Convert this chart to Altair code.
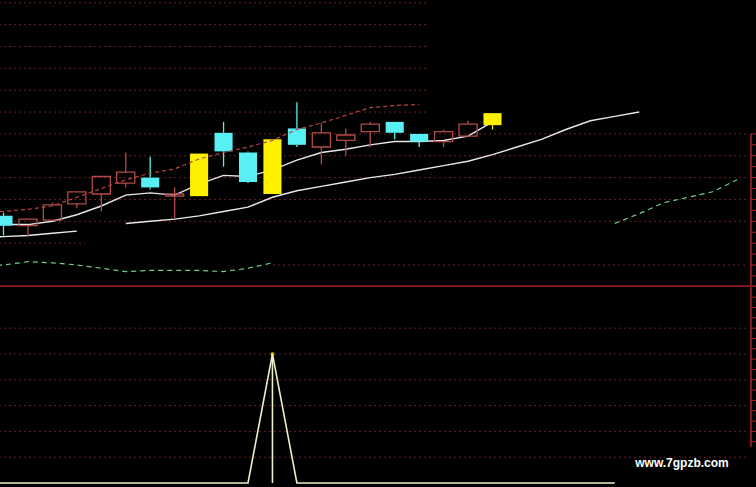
import altair as alt
import pandas as pd

# ---- daily candles (index = trading day) ----
day = list(range(21))
open_ = [8.45, 8.36, 8.41, 8.56, 8.65, 8.75, 8.80, 8.63, 8.63, 9.21, 9.03,
         8.65, 9.25, 9.08, 9.14, 9.22, 9.31, 9.20, 9.13, 9.18, 9.28]
high = [8.48, 8.42, 8.57, 8.67, 8.81, 9.03, 8.99, 8.71, 9.02, 9.31, 9.04,
        9.15, 9.49, 9.30, 9.25, 9.31, 9.31, 9.20, 9.24, 9.32, 9.39]
low = [8.27, 8.26, 8.41, 8.52, 8.49, 8.71, 8.69, 8.43, 8.63, 8.90, 8.75,
       8.65, 9.08, 8.92, 9.00, 9.08, 9.15, 9.08, 9.08, 9.18, 9.24]
close = [8.36, 8.42, 8.55, 8.67, 8.81, 8.85, 8.71, 8.65, 9.02, 9.04, 8.76,
         9.15, 9.10, 9.21, 9.19, 9.29, 9.21, 9.13, 9.22, 9.29, 9.39]
signal = [0, 0, 0, 0, 0, 0, 0, 0, 1, 0, 0, 1, 0, 0, 0, 0, 0, 0, 0, 0, 1]

# ---- overlay lines ----
ma_fast_day = list(range(-1, 21))
ma_fast = [8.37, 8.37, 8.37, 8.40, 8.46, 8.54, 8.64, 8.66, 8.64, 8.74, 8.82,
           8.81, 8.87, 8.96, 9.03, 9.06, 9.10, 9.13, 9.13, 9.14, 9.18, 9.31]

ma_slow_a_day = list(range(-1, 4))
ma_slow_a = [8.25, 8.26, 8.27, 8.29, 8.31]
ma_slow_b_day = list(range(5, 27))
ma_slow_b = [8.38, 8.40, 8.42, 8.45, 8.49, 8.53, 8.62, 8.68, 8.72, 8.76, 8.80,
             8.83, 8.87, 8.91, 8.95, 9.01, 9.08, 9.15, 9.24, 9.32, 9.36, 9.40]

upper_day = list(range(-1, 18))
upper = [8.48, 8.49, 8.51, 8.54, 8.62, 8.70, 8.78, 8.84, 8.88, 8.97, 9.03,
         9.08, 9.14, 9.24, 9.30, 9.37, 9.44, 9.46, 9.47]

lower_a_day = list(range(-1, 12))
lower_a = [7.99, 8.00, 8.03, 8.02, 8.00, 7.97, 7.94, 7.95, 7.95, 7.95, 7.94,
           7.97, 8.02]
lower_b_day = list(range(25, 31))
lower_b = [8.38, 8.47, 8.57, 8.62, 8.67, 8.78]

# ---- signal indicator (sub panel) ----
ind_day = list(range(-1, 26))
ind = [0] * len(ind_day)
ind[ind_day.index(11)] = 100

# ---- grid levels ----
price_grid = [10.4, 10.2, 10.0, 9.8, 9.6, 9.4, 9.2, 9.0, 8.8, 8.6, 8.4, 8.2, 8.0]
price_grid_end = [17.36] * 6 + [30.45] * 5 + [3.33, 30.45]
price_grid_start = [-1.0] * 12 + [11.02]
sub_grid = [120, 100, 80, 60, 40, 20]
axis_day = 30.57
price_ticks = [round(7.8 + 0.1 * k, 2) for k in range(15)]
sub_ticks = list(range(32, 152, 8))

BG = "#000000"
GRID = "#6a2222"
RED = "#b34a4a"
CYAN = "#58f0f4"
YELLOW = "#fff000"

x_scale = alt.Scale(domain=[-0.1431, 30.777], nice=False, zero=False)
top_scale = alt.Scale(domain=[7.7986, 10.4256], nice=False, zero=False)
sub_scale = alt.Scale(domain=[-3.1, 151.9], nice=False, zero=False)
kind_scale = alt.Scale(domain=["up", "down", "signal"], range=[RED, CYAN, YELLOW])

kind = ["signal" if s else ("up" if c >= o else "down")
        for o, c, s in zip(open_, close, signal)]
candles = pd.DataFrame({"day": day, "open": open_, "high": high, "low": low,
                        "close": close, "kind": kind})
candles["top"] = candles[["open", "close"]].max(axis=1)
candles["bot"] = candles[["open", "close"]].min(axis=1)
candles["x0"] = candles["day"] - 0.37
candles["x1"] = candles["day"] + 0.37


def series(pairs):
    rows = []
    for seg, (d, v) in enumerate(pairs):
        rows += [{"day": a, "v": b, "seg": seg} for a, b in zip(d, v)]
    return pd.DataFrame(rows)


def xq(field="day"):
    return alt.X(f"{field}:Q", scale=x_scale, axis=None)


def yt(field):
    return alt.Y(f"{field}:Q", scale=top_scale, axis=None)


def ys(field):
    return alt.Y(f"{field}:Q", scale=sub_scale, axis=None)


# ---------- price panel ----------
grid_top_df = pd.DataFrame({"level": price_grid, "x0": price_grid_start,
                            "x1": price_grid_end})
grid_top = alt.Chart(grid_top_df).mark_rule(
    color=GRID, strokeDash=[2, 3], strokeWidth=1, clip=True
).encode(x=xq("x0"), x2="x1", y=yt("level"))

ma_fast_line = alt.Chart(series([(ma_fast_day, ma_fast)])).mark_line(
    color="#e8e8e8", strokeWidth=1.4, clip=True
).encode(x=xq(), y=yt("v"), detail="seg:N")

ma_slow_line = alt.Chart(series([(ma_slow_a_day, ma_slow_a),
                                 (ma_slow_b_day, ma_slow_b)])).mark_line(
    color="#e8e8e8", strokeWidth=1.4, clip=True
).encode(x=xq(), y=yt("v"), detail="seg:N")

lower_line = alt.Chart(series([(lower_a_day, lower_a),
                               (lower_b_day, lower_b)])).mark_line(
    color="#6fcf8c", strokeWidth=1.2, strokeDash=[5, 4], clip=True
).encode(x=xq(), y=yt("v"), detail="seg:N")

wick_hi = alt.Chart(candles).mark_rule(strokeWidth=1.3, clip=True).encode(
    x=xq(), y=yt("high"), y2="top",
    color=alt.Color("kind:N", scale=kind_scale, legend=None))
wick_lo = alt.Chart(candles).mark_rule(strokeWidth=1.3, clip=True).encode(
    x=xq(), y=yt("bot"), y2="low",
    color=alt.Color("kind:N", scale=kind_scale, legend=None))

body_up = alt.Chart(candles).transform_filter(alt.datum.kind == "up").mark_rect(
    fillOpacity=0, strokeWidth=1.3, clip=True
).encode(x=xq("x0"), x2="x1", y=yt("bot"), y2="top",
         stroke=alt.Color("kind:N", scale=kind_scale, legend=None))
body_fill = alt.Chart(candles).transform_filter(alt.datum.kind != "up").mark_rect(
    clip=True
).encode(x=xq("x0"), x2="x1", y=yt("bot"), y2="top",
         color=alt.Color("kind:N", scale=kind_scale, legend=None))

upper_line = alt.Chart(series([(upper_day, upper)])).mark_line(
    color="#b84444", strokeWidth=1.2, strokeDash=[4, 3], clip=True
).encode(x=xq(), y=yt("v"), detail="seg:N")

axis_top = alt.Chart(pd.DataFrame({"x": [axis_day], "y0": [9.2], "y1": [7.7986]})
                     ).mark_rule(color="#a82424", strokeWidth=1.5, clip=True
                                 ).encode(x=xq("x"), y=yt("y0"), y2="y1")
ticks_top = alt.Chart(pd.DataFrame({"y": price_ticks, "x0": axis_day, "x1": 30.78})
                      ).mark_rule(color="#a82424", strokeWidth=1, clip=True
                                  ).encode(x=xq("x0"), x2="x1", y=yt("y"))
separator = alt.Chart(pd.DataFrame({"y": [7.805], "x0": [-1.0], "x1": [31.0]})
                      ).mark_rule(color="#8c1c1c", strokeWidth=2, clip=True
                                  ).encode(x=xq("x0"), x2="x1", y=yt("y"))

top = alt.layer(grid_top, ma_fast_line, ma_slow_line, lower_line, wick_hi,
                wick_lo, body_up, body_fill, upper_line, axis_top, ticks_top,
                separator).properties(width=756, height=287)

# ---------- indicator panel ----------
grid_sub = alt.Chart(pd.DataFrame({"level": sub_grid, "x0": -1.0, "x1": 30.45})
                     ).mark_rule(color=GRID, strokeDash=[2, 3], strokeWidth=1,
                                 clip=True
                                 ).encode(x=xq("x0"), x2="x1", y=ys("level"))
ind_df = pd.DataFrame({"day": ind_day, "v": ind})
ind_line = alt.Chart(ind_df).mark_line(color="#eeeec8", strokeWidth=1.6,
                                       clip=True).encode(x=xq(), y=ys("v"))
peak_df = ind_df[ind_df["v"] > 0].assign(base=0)
ind_stick = alt.Chart(peak_df).mark_rule(color="#eeeec8", strokeWidth=1.6,
                                         clip=True
                                         ).encode(x=xq(), y=ys("base"), y2="v")
ind_dot = alt.Chart(peak_df).mark_point(color=YELLOW, filled=True, size=14,
                                        clip=True).encode(x=xq(), y=ys("v"))
axis_sub = alt.Chart(pd.DataFrame({"x": [axis_day], "y0": [151.9], "y1": [27.9]})
                     ).mark_rule(color="#a82424", strokeWidth=1.5, clip=True
                                 ).encode(x=xq("x"), y=ys("y0"), y2="y1")
ticks_sub = alt.Chart(pd.DataFrame({"y": sub_ticks, "x0": axis_day, "x1": 30.78})
                      ).mark_rule(color="#a82424", strokeWidth=1, clip=True
                                  ).encode(x=xq("x0"), x2="x1", y=ys("y"))
mark_txt = alt.Chart(pd.DataFrame({"day": [27.75], "v": [15.5],
                                   "t": ["www.7gpzb.com"]})).mark_text(
    color="#ffffff", font="Liberation Sans", fontSize=12, fontWeight="bold",
    align="center", baseline="middle"
).encode(x=xq(), y=ys("v"), text="t:N")

sub = alt.layer(grid_sub, ind_line, ind_stick, ind_dot, axis_sub, ticks_sub,
                mark_txt).properties(width=756, height=200)

chart = alt.vconcat(top, sub, spacing=0).properties(
    padding=0, background=BG
).configure_view(stroke=None).configure_concat(spacing=0)

chart.save("out.html", embed_options={"renderer": "svg", "actions": False})
